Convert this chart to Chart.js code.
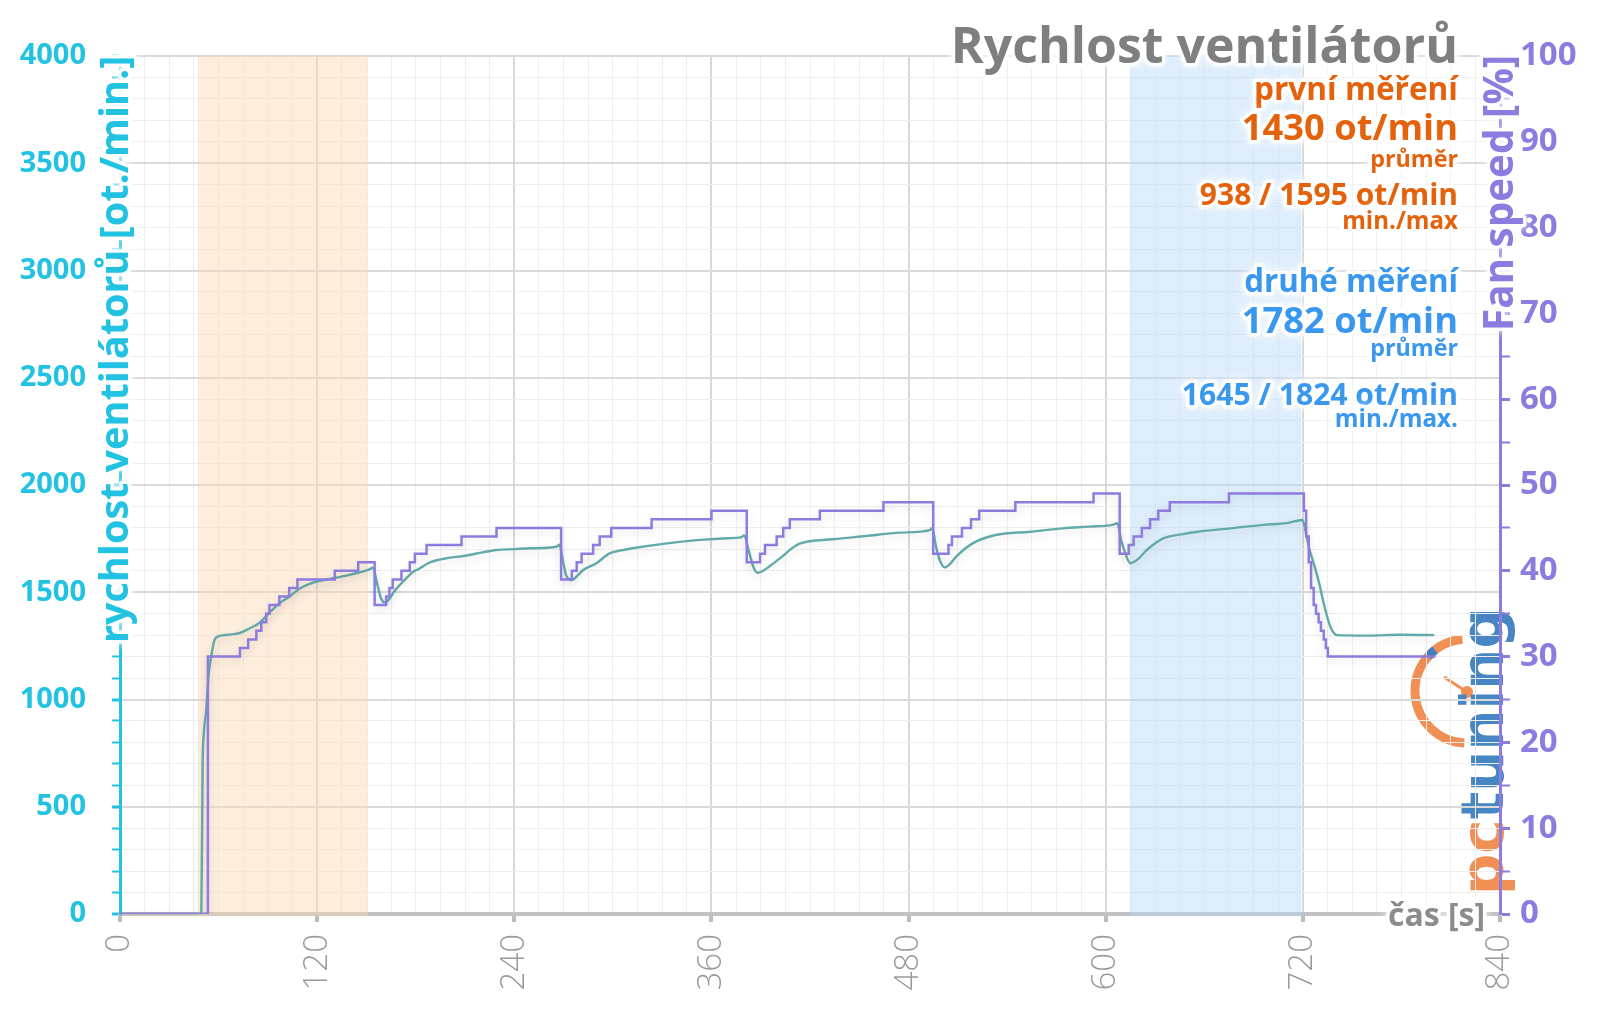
<!DOCTYPE html>
<html lang="cs">
<head>
<meta charset="utf-8">
<title>Rychlost ventilátorů</title>
<script src="https://cdn.jsdelivr.net/npm/chart.js@4.4.1/dist/chart.umd.min.js"></script>
<style>
  html, body { margin: 0; padding: 0; background: #fff; }
  #wrap { width: 1600px; height: 1009px; }
</style>
</head>
<body>
<div id="wrap"><canvas id="fan" width="1600" height="1009"></canvas></div>
<script>
// ---- data ----
const rpmTime = [0, 49.5, 50.3, 51, 52.5, 54, 55.5, 57.5, 60, 66, 73, 79, 85, 91, 97, 103, 109, 115, 121, 127, 139, 151, 154,
  156.5, 159, 161.5, 164, 167, 173, 178.4, 181, 189, 200, 209, 220, 229, 240, 250, 265.7, 267.5, 269.5, 271.5, 273.5, 275,
  277.5, 282, 290, 298, 305, 312, 333, 353, 370, 378, 380, 382.5, 385.5, 388, 391, 395, 403, 409, 414, 434, 454, 475, 493,
  494.5, 496.5, 499, 502, 505, 509, 519, 533, 554, 574, 590, 604, 607, 609.5, 612, 615, 619, 625, 635, 646, 656, 676, 696,
  710, 719.8, 721.5, 724, 726.6, 730, 732.7, 736.7, 740.8, 760, 780, 800]
const rpmValue = [0, 0, 700, 840, 950, 1120, 1200, 1277, 1295, 1302, 1310, 1332, 1358, 1405, 1448, 1479, 1515, 1538, 1552, 1561, 1580, 1604, 1614,
  1540, 1470, 1452, 1470, 1505, 1555, 1595, 1605, 1640, 1660, 1669, 1685, 1697, 1701, 1705, 1712, 1722, 1650, 1580, 1560, 1557,
  1570, 1604, 1635, 1681, 1695, 1705, 1728, 1744, 1752, 1756, 1765, 1700, 1619, 1591, 1598, 1619, 1666, 1705, 1728, 1747, 1762, 1778, 1790,
  1800, 1720, 1650, 1616, 1630, 1666, 1728, 1767, 1782, 1798, 1806, 1814, 1822, 1740, 1680, 1635, 1650, 1697, 1751, 1770, 1782, 1798, 1814,
  1822, 1837, 1790, 1700, 1635, 1540, 1448, 1340, 1300, 1298, 1302, 1300]

// fan duty: value fanPct[i] starts at fanTime[i]
const fanTime = [0, 53.5, 73, 78, 83, 86, 89, 91, 97, 103, 108, 130.7, 145, 155, 162, 164, 166, 171.3, 176.4, 179.5, 186.6, 207.9, 229.2,
  268.5, 275, 278, 281, 288, 292, 299, 323.6, 360, 381.5, 389.6, 392.6, 399.7, 403.7, 407.7, 426, 464.7,
  495, 504.3, 506.4, 512.5, 518, 523, 545, 592.6, 608.5, 614, 617, 622, 627, 632, 639, 675,
  720.6, 722, 723.6, 725, 726.6, 728, 729.6, 731, 732.7, 734, 735.2, 800.8]
const fanPct = [0, 30, 31, 32, 33, 34, 35, 36, 37, 38, 39, 40, 41, 36, 37, 38, 39, 40, 41, 42, 43, 44, 45,
  39, 40, 41, 42, 43, 44, 45, 46, 47, 41, 42, 43, 44, 45, 46, 47, 48,
  42, 43, 44, 45, 46, 47, 48, 49, 42, 43, 44, 45, 46, 47, 48, 49,
  47, 44, 41, 38, 36, 35, 34, 33, 32, 31, 30, 30]

const bandFirst = [47.5, 151]
const bandSecond = [615, 719]

const firstRun = ['první měření', '1430 ot/min', 'průměr', '938 / 1595 ot/min', 'min./max']
const secondRun = ['druhé měření', '1782 ot/min', 'průměr', '1645 / 1824 ot/min', 'min./max.']

// ---- colours ----
const cyan = '#22c3e2'
const purple = '#8d7be0'
const orange = '#e5620c'
const blue = '#3a97ee'
const gray = '#7f7f7f'
const FONT = '"Open Sans", "DejaVu Sans", sans-serif'

function fitFont(ctx, text, width, weight, family) {
  ctx.font = weight + ' 100px ' + family
  const w = ctx.measureText(text).width
  const size = 100 * width / w
  ctx.font = weight + ' ' + size.toFixed(1) + 'px ' + family
  return size
}

function glowText(ctx, text, x, y, color) {
  ctx.save()
  ctx.lineJoin = 'round'
  ctx.strokeStyle = 'rgba(255,255,255,0.9)'
  ctx.lineWidth = 7
  ctx.shadowColor = '#fff'
  ctx.shadowBlur = 8
  ctx.strokeText(text, x, y)
  ctx.restore()
  ctx.fillStyle = color
  ctx.fillText(text, x, y)
}

// shaded measuring windows
const bands = {
  id: 'bands',
  beforeDatasetsDraw(chart) {
    const {ctx, chartArea: a, scales: {x}} = chart
    ctx.save()
    let l = x.getPixelForValue(bandFirst[0]), r = x.getPixelForValue(bandFirst[1])
    ctx.fillStyle = 'rgba(250, 214, 180, 0.45)'
    ctx.fillRect(l, a.top, r - l, a.bottom - a.top + 2)
    l = x.getPixelForValue(bandSecond[0]); r = x.getPixelForValue(bandSecond[1])
    ctx.fillStyle = 'rgba(180, 214, 248, 0.45)'
    ctx.fillRect(l, a.top, r - l, a.bottom - a.top + 2)
    ctx.restore()
  }
}

// soft shadow under the lines
const lineShadow = {
  id: 'lineShadow',
  beforeDatasetDraw(chart) {
    const ctx = chart.ctx
    ctx.save()
    ctx.shadowColor = 'rgba(0,0,0,0.12)'
    ctx.shadowBlur = 8
    ctx.shadowOffsetY = 4
  },
  afterDatasetDraw(chart) {
    chart.ctx.restore()
  }
}

// pctuning logo, under everything
const logo = {
  id: 'logo',
  beforeDraw(chart) {
    const ctx = chart.ctx
    ctx.save()
    ctx.globalAlpha = 0.95
    // gauge
    ctx.lineWidth = 9
    ctx.strokeStyle = '#f08a4b'
    ctx.beginPath()
    ctx.arc(1467, 691, 52, -95 * Math.PI / 180, 93 * Math.PI / 180, true)
    ctx.stroke()
    ctx.strokeStyle = '#3d7fc0'
    ctx.beginPath()
    ctx.arc(1467, 691, 52, -128 * Math.PI / 180, -138 * Math.PI / 180, true)
    ctx.stroke()
    ctx.strokeStyle = '#f08a4b'
    ctx.lineWidth = 3
    ctx.beginPath()
    ctx.moveTo(1444, 677)
    ctx.lineTo(1467, 692)
    ctx.stroke()
    ctx.fillStyle = '#f08a4b'
    ctx.beginPath()
    ctx.arc(1467, 692, 6, 0, Math.PI * 2)
    ctx.fill()
    // word mark
    ctx.translate(1503, 895)
    ctx.rotate(-Math.PI / 2)
    fitFont(ctx, 'pctuning', 288, 'bold', '"DejaVu Sans", sans-serif')
    ctx.textBaseline = 'alphabetic'
    ctx.fillStyle = '#f08a4b'
    ctx.fillText('pc', 0, 0)
    const pw = ctx.measureText('pc').width
    ctx.fillStyle = '#3d7fc0'
    ctx.fillText('tuning', pw, 0)
    ctx.restore()
  }
}

// title, notes and axis titles
const notes = {
  id: 'notes',
  afterDraw(chart) {
    const ctx = chart.ctx
    ctx.save()
    ctx.textAlign = 'right'
    ctx.textBaseline = 'alphabetic'
    const right = 1458

    fitFont(ctx, 'Rychlost ventilátorů', 507, 'bold', FONT)
    glowText(ctx, 'Rychlost ventilátorů', right, 63, gray)

    const widths = [204, 216, 88, 258, 116]
    const lines1 = [100, 140, 167, 205, 229]
    const lines2 = [292, 333, 356, 405, 427]
    firstRun.forEach((t, i) => {
      fitFont(ctx, t, widths[i], 'bold', FONT)
      glowText(ctx, t, right, lines1[i], orange)
    })
    const widths2 = [214, 216, 88, 276, 123]
    secondRun.forEach((t, i) => {
      fitFont(ctx, t, widths2[i], 'bold', FONT)
      glowText(ctx, t, right, lines2[i], blue)
    })

    // x axis title on the axis line
    ctx.textAlign = 'left'
    fitFont(ctx, 'čas [s]', 97, 'bold', FONT)
    glowText(ctx, 'čas [s]', 1388, 926, '#8c8c8c')

    // left axis title
    ctx.save()
    ctx.translate(128, 643)
    ctx.rotate(-Math.PI / 2)
    fitFont(ctx, 'rychlost ventilátorů [ot./min.]', 588, 'bold', FONT)
    glowText(ctx, 'rychlost ventilátorů [ot./min.]', 0, 0, cyan)
    ctx.restore()

    // right axis title
    ctx.save()
    ctx.translate(1513, 331)
    ctx.rotate(-Math.PI / 2)
    fitFont(ctx, 'Fan speed [%]', 276, 'bold', FONT)
    glowText(ctx, 'Fan speed [%]', 0, 0, purple)
    ctx.restore()

    ctx.restore()
  }
}

function build() {
  new Chart(document.getElementById('fan'), {
    type: 'line',
    data: {
      datasets: [{
        label: 'Fan speed [%]',
        data: fanTime.map((t, i) => ({x: t, y: fanPct[i]})),
        yAxisID: 'yPct',
        borderColor: purple,
        borderWidth: 2.5,
        stepped: 'before',
        pointRadius: 0
      }, {
        label: 'rychlost ventilátorů',
        data: rpmTime.map((t, i) => ({x: t, y: rpmValue[i]})),
        yAxisID: 'yRpm',
        borderColor: '#63aaa9',
        borderWidth: 2.4,
        pointRadius: 0,
        cubicInterpolationMode: 'monotone'
      }]
    },
    options: {
      responsive: false,
      animation: false,
      devicePixelRatio: 1,
      layout: { padding: { top: 56 } },
      plugins: { legend: { display: false }, tooltip: { enabled: false } },
      scales: {
        x: {
          type: 'linear', min: 0, max: 840,
          afterFit: s => { s.height = 95 },
          ticks: {
            stepSize: 15, autoSkip: false, maxRotation: 90, minRotation: 90, padding: 12,
            color: '#9a9a9a', font: { family: FONT, size: 33, weight: 300 },
            callback: v => v % 120 === 0 ? v : ''
          },
          grid: {
            color: c => c.tick && c.tick.value % 120 === 0 ? '#d9d9d9' : '#eeeeee',
            lineWidth: c => c.tick && c.tick.value % 120 === 0 ? 2 : 1,
            tickColor: c => c.tick && c.tick.value % 120 === 0 ? '#bdbdbd' : 'rgba(0,0,0,0)',
            tickLength: 8, tickWidth: 4
          },
          border: { color: '#c2c2c2', width: 4 }
        },
        yRpm: {
          position: 'left', min: 0, max: 4000,
          afterFit: s => { s.width = 120 },
          ticks: {
            stepSize: 100, maxTicksLimit: 100, autoSkip: false, padding: 26,
            color: cyan, font: { family: FONT, size: 29, weight: 'bold' },
            callback: v => v % 500 === 0 ? v : ''
          },
          grid: {
            color: c => c.tick && c.tick.value % 500 === 0 ? '#dadada' : '#eeeeee',
            lineWidth: c => c.tick && c.tick.value % 500 === 0 ? 2 : 1,
            tickColor: cyan,
            tickWidth: c => c.tick && c.tick.value % 500 === 0 ? 3 : 2,
            tickLength: 8
          },
          border: { color: cyan, width: 3 }
        },
        yPct: {
          position: 'right', min: 0, max: 100,
          afterFit: s => { s.width = 100 },
          ticks: {
            stepSize: 5, autoSkip: false, padding: 10,
            color: purple, font: { family: FONT, size: 33, weight: 'bold' },
            callback: v => v % 10 === 0 ? v : ''
          },
          grid: {
            drawOnChartArea: false,
            tickColor: purple,
            tickWidth: c => c.tick && c.tick.value % 10 === 0 ? 3 : 2,
            tickLength: 10
          },
          border: { color: purple, width: 3 }
        }
      }
    },
    plugins: [logo, bands, lineShadow, notes]
  })
}

Promise.all([
  document.fonts.load('bold 30px "Open Sans"'),
  document.fonts.load('300 30px "Open Sans"'),
  document.fonts.load('bold 30px "DejaVu Sans"')
]).then(build, build)
</script>
</body>
</html>
